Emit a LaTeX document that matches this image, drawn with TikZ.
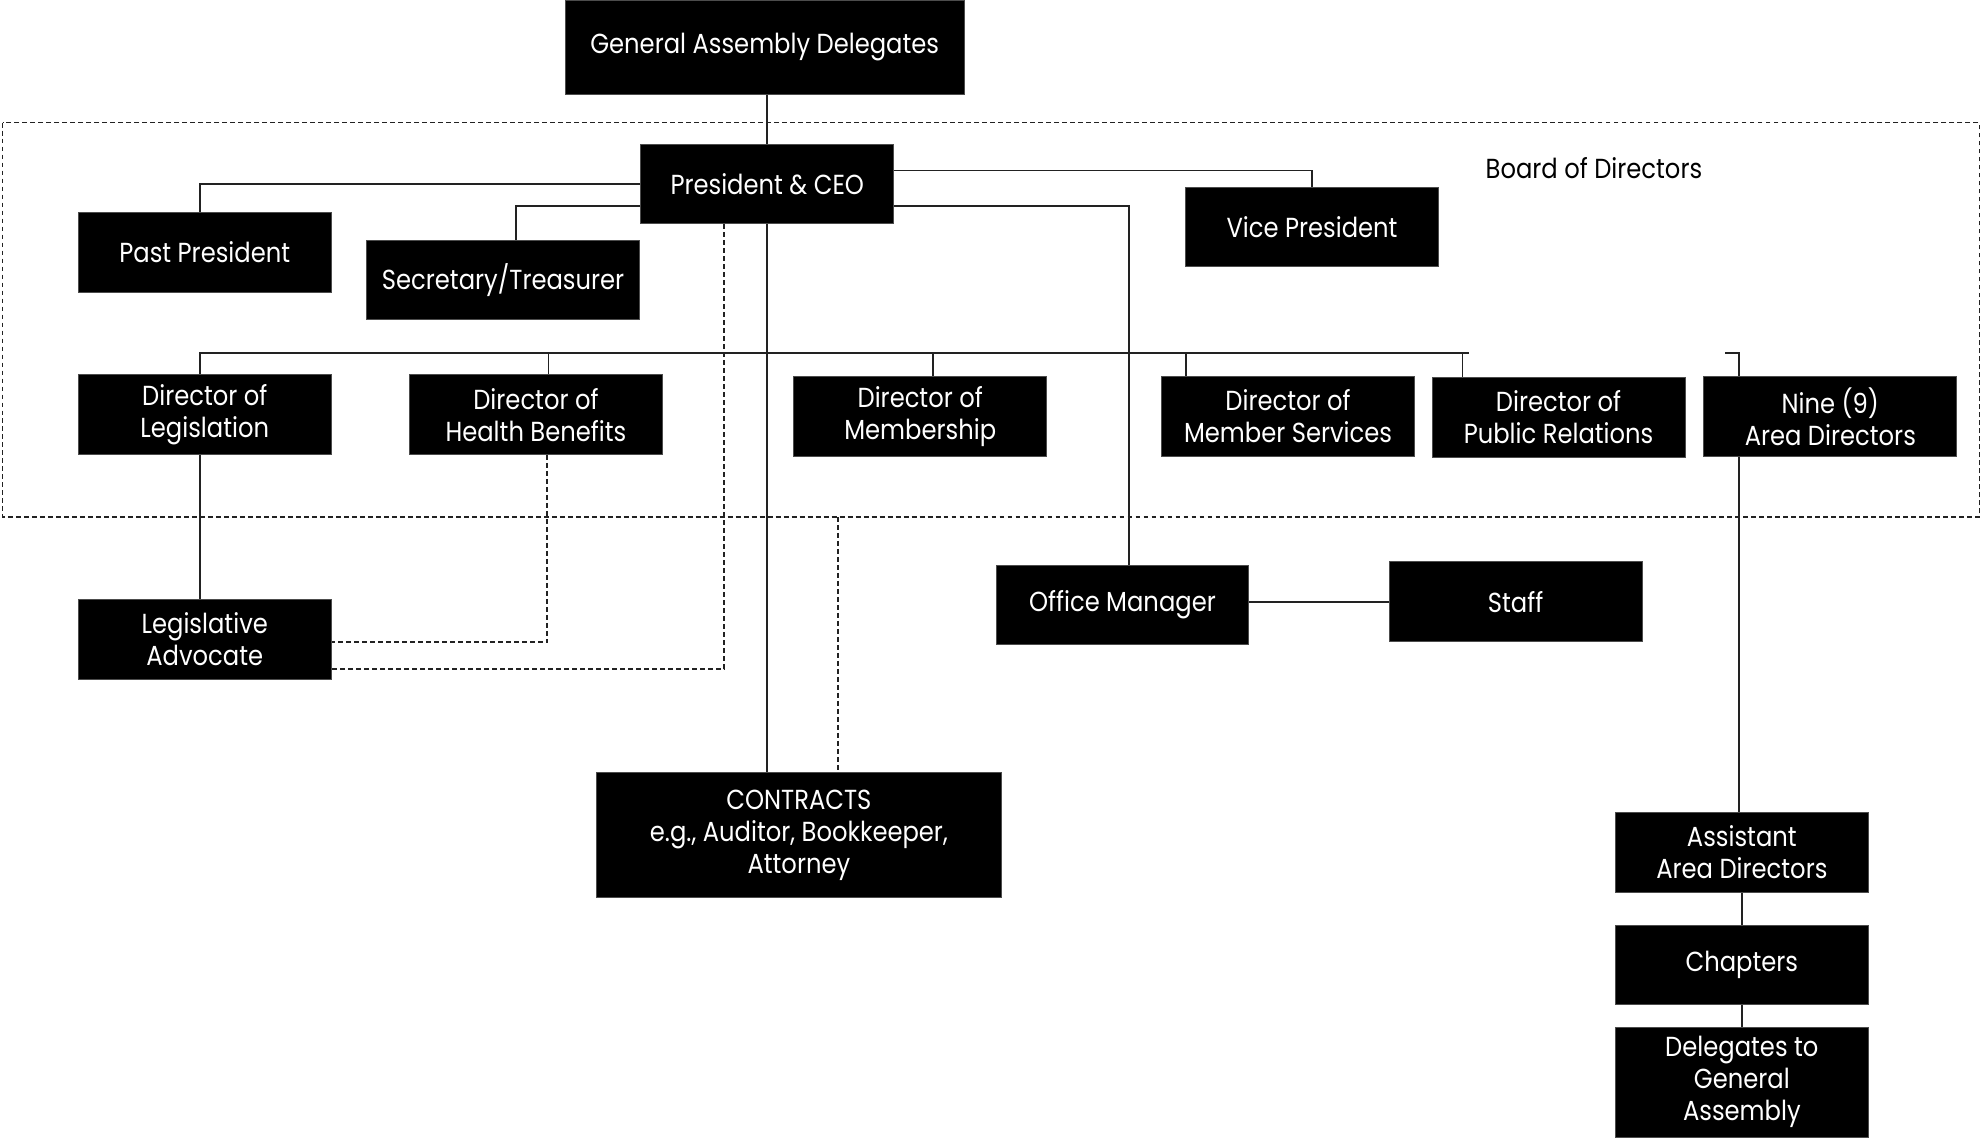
\documentclass[tikz,border=0pt]{standalone}
\usepackage{fontspec}
\setmainfont{Poppins}[FakeStretch=0.88]
\usepackage{tikz}
\usetikzlibrary{calc,positioning}
\definecolor{wire}{HTML}{222222}
\tikzset{
    box/.style={fill=black, draw=black!70, line width=0.4pt, text=white, align=center,
        minimum width=4cm, minimum height=1.26cm, inner sep=0pt,
        font=\fontsize{12.4}{14.4}\selectfont},
    wireline/.style={draw=wire, line width=0.75pt},
    dashline/.style={draw=wire, line width=0.75pt, dash pattern=on 2.2pt off 1.4pt},
}

\begin{document}
\begin{tikzpicture}[x=0.2mm, y=-0.2mm]
    \useasboundingbox (0,0) rectangle (1568,900);
    % board frame
    \draw [dashline] (2,97) rectangle (1566,409);
    \node [font=\fontsize{12.4}{14.4}\selectfont] (boardlbl) at (1261,133) {Board of Directors};

    \node [box, minimum width=6.32cm, minimum height=1.5cm] (gad) at (605,37.5) {General Assembly Delegates};
    \node [box] (pres) at (607,145.5) {President \& CEO};
    \node [box] (past) at (162,199.5) {Past President};
    \node [box, minimum width=4.32cm] (sec) at (398,221.5) {Secretary/Treasurer};
    \node [box] (vp) at (1038,179.5) {Vice President};

    \node [box] (leg) at (162,328) {Director of\\Legislation};
    \node [box] (health) at (424,328) {Director of\\Health Benefits};
    \node [box] (memb) at (728,329.5) {Director of\\Membership};
    \node [box] (msvc) at (1019,329.5) {Director of\\Member Services};
    \node [box] (pubrel) at (1233,330) {Director of\\Public Relations};
    \node [box] (area) at (1448,329.5) {Nine (9)\\Area Directors};

    \node [box] (advoc) at (162,506) {Legislative\\Advocate};
    \node [box] (office) at (888,478.5) {Office Manager};
    \node [box] (staff) at (1199,476) {Staff};
    \node [box, minimum width=6.4cm, minimum height=1.98cm] (contracts) at (632,660.5) {CONTRACTS\\e.g., Auditor, Bookkeeper,\\Attorney};

    \node [box] (asst) at (1378,674.5) {Assistant\\Area Directors};
    \node [box] (chap) at (1378,763.5) {Chapters};
    \node [box, minimum height=1.74cm] (deleg) at (1378,856) {Delegates to\\General\\Assembly};

    \coordinate (busend) at (1162,279);
    \coordinate (hook) at (1365,279);
    \coordinate (bfoot) at (663,409);

    % solid lines
    \draw [wireline] (pres.north |- gad.south) -- (pres.north);
    \draw [wireline] (pres.west) -| ([xshift=-0.8mm]past.north);
    \draw [wireline] ([yshift=-3.5mm]pres.west) -| ([xshift=2mm]sec.north);
    \draw [wireline] ([yshift=2.1mm]pres.east) -| (vp.north);
    \draw [wireline] ([yshift=-3.5mm]pres.east) -| ([xshift=1mm]office.north);
    \draw [wireline] (pres.south) -- (pres.south |- contracts.north);
    \draw [wireline] ([xshift=-0.8mm]leg.north) |- (busend);
    \foreach \n/\dx in {health/2mm, memb/2mm, msvc/-16.2mm, pubrel/-15.2mm}
        \draw [wireline] ([xshift=\dx]\n.north) -- ([xshift=\dx]\n.north |- busend);
    \draw [wireline] (hook) -| ([xshift=-14.4mm]area.north);
    \draw [wireline] ([xshift=-14.4mm]area.south) -- ([xshift=-14.4mm]area.south |- asst.north);
    \draw [wireline] (asst) -- (chap);
    \draw [wireline] (chap) -- (deleg);
    \draw [wireline] ([xshift=-0.8mm]leg.south) -- ([xshift=-0.8mm]leg.south |- advoc.north);
    \draw [wireline] (office.east |- staff.west) -- (staff.west);

    % dashed lines
    \draw [dashline] ([xshift=1.8mm]health.south) |- ([yshift=-0.4mm]advoc.east);
    \draw [dashline] ([xshift=-6.8mm]pres.south) |- ([yshift=-4.6mm]advoc.east);
    \draw [dashline] (bfoot) -- (bfoot |- contracts.north);
\end{tikzpicture}
\end{document}
